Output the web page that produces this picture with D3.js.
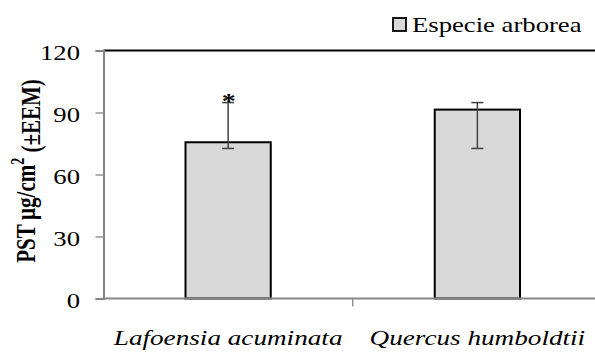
<!DOCTYPE html>
<html>
<head>
<meta charset="utf-8">
<script src="https://cdn.jsdelivr.net/npm/d3@7"></script>
<style>
  html, body { margin: 0; padding: 0; background: #fff; }
  svg { display: block; }
  svg text { font-family: "Liberation Serif", "DejaVu Serif", serif; fill: #000; }
</style>
</head>
<body>
<svg id="chart" width="595" height="352"></svg>
<script>
// Species and their mean PST values with error bar limits (±EEM)
const categories = ["Lafoensia acuminata", "Quercus humboldtii"];
const means = [75.6, 91.4];
const errLow = [72.6, 72.6];
const errHigh = [94.8, 94.8];
const marks = ["*", ""];
const yTicks = [0, 30, 60, 90, 120];
const seriesName = "Especie arborea";

const svg = d3.select("#chart");
const plotLeft = 103.5, plotRight = 602, plotTop = 50.5, plotBottom = 298.5;
const SX = 1.27; // horizontal stretch applied to all lettering

const x = d3.scaleBand().domain(categories).range([plotLeft, plotRight]);
const y = d3.scaleLinear().domain([0, 120]).range([plotBottom, plotTop]);
const barW = x.bandwidth() * 0.342;

// top border of the plot area
svg.append("line")
  .attr("x1", plotLeft).attr("x2", 595)
  .attr("y1", plotTop).attr("y2", plotTop)
  .attr("stroke", "#000").attr("stroke-width", 2);

// y axis
const yAxis = svg.append("g")
  .attr("transform", `translate(${plotLeft},0)`)
  .call(d3.axisLeft(y).tickValues(yTicks).tickSize(8).tickFormat(d3.format("d")));
yAxis.attr("font-family", null).attr("font-size", null);
yAxis.select(".domain").attr("stroke", "#868686").attr("stroke-width", 2);
yAxis.selectAll(".tick line").attr("stroke", "#868686").attr("stroke-width", 1.3);
yAxis.selectAll(".tick text")
  .attr("x", 0).attr("dy", null).attr("y", 9.3)
  .attr("transform", `translate(-23.5,0) scale(${SX},1)`)
  .attr("font-size", 21);

// bars
svg.append("g").selectAll("rect")
  .data(categories)
  .join("rect")
  .attr("x", d => x(d) + (x.bandwidth() - barW) / 2)
  .attr("y", (d, i) => y(means[i]))
  .attr("width", barW)
  .attr("height", (d, i) => y(0) - y(means[i]))
  .attr("fill", "#d9d9d9")
  .attr("stroke", "#000")
  .attr("stroke-width", 2);

// x axis
const xAxis = svg.append("g")
  .attr("transform", `translate(0,${plotBottom})`);
xAxis.append("line")
  .attr("x1", plotLeft).attr("x2", 595)
  .attr("y1", 0).attr("y2", 0)
  .attr("stroke", "#868686").attr("stroke-width", 2);
// separators between categories
xAxis.selectAll("line.sep")
  .data(categories.slice(1))
  .join("line")
  .attr("class", "sep")
  .attr("x1", d => x(d)).attr("x2", d => x(d))
  .attr("y1", 0).attr("y2", 8)
  .attr("stroke", "#868686").attr("stroke-width", 1.3);
xAxis.selectAll("text")
  .data(categories)
  .join("text")
  .attr("transform", d => `translate(${x(d) + x.bandwidth() / 2},46.5) scale(${SX},1)`)
  .attr("text-anchor", "middle")
  .attr("font-style", "italic")
  .attr("font-size", 21.4)
  .text(d => d);

// error bars
const eb = svg.append("g").attr("stroke", "#404040").attr("stroke-width", 1.5);
categories.forEach((c, i) => {
  const cx = x(c) + x.bandwidth() / 2;
  eb.append("line").attr("x1", cx).attr("x2", cx).attr("y1", y(errHigh[i])).attr("y2", y(errLow[i]));
  eb.append("line").attr("x1", cx - 6).attr("x2", cx + 6).attr("y1", y(errHigh[i])).attr("y2", y(errHigh[i]));
  eb.append("line").attr("x1", cx - 6).attr("x2", cx + 6).attr("y1", y(errLow[i])).attr("y2", y(errLow[i]));
});

// significance marks
svg.append("g").selectAll("text")
  .data(categories)
  .join("text")
  .attr("transform", (d, i) => `translate(${x(d) + x.bandwidth() / 2 + 0.5},${y(errHigh[i]) + 5}) scale(${SX},1)`)
  .attr("text-anchor", "middle")
  .attr("font-weight", "bold")
  .attr("font-size", 22)
  .text((d, i) => marks[i]);

// y axis title
const title = svg.append("text")
  .attr("transform", `translate(35,171) scale(${SX},1) rotate(-90)`)
  .attr("text-anchor", "middle")
  .attr("font-weight", "bold")
  .attr("font-size", 21);
title.append("tspan").text("PST\u2009\u00b5g/cm");
title.append("tspan").attr("font-size", 14).attr("dy", "-0.6em").text("2");
title.append("tspan").attr("dy", "0.6em").text(" (\u00b1EEM)");

// legend
const lg = svg.append("g");
lg.append("rect").attr("x", 393).attr("y", 18).attr("width", 13).attr("height", 13)
  .attr("fill", "#d9d9d9").attr("stroke", "#000").attr("stroke-width", 1.8);
lg.append("text")
  .attr("transform", `translate(412,32) scale(${SX},1)`)
  .attr("font-size", 21).text(seriesName);
</script>
</body>
</html>
